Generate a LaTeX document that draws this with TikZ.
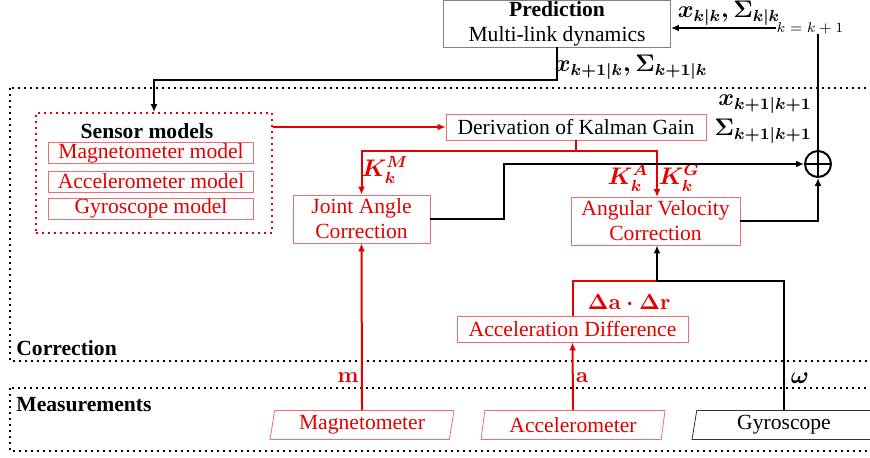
\documentclass[tikz,border=0pt]{standalone}
\usepackage{amsmath, amssymb}
\usepackage{fontspec}
\setmainfont{Liberation Serif}
\newfontfamily\tnr{Liberation Serif}
\usepackage{tikz}
\usetikzlibrary{shapes, shapes.geometric, arrows, calc, positioning}
\usetikzlibrary{arrows.meta}

\definecolor{sigred}{RGB}{228,0,0}
\definecolor{boxred}{RGB}{236,110,110}
\definecolor{boxgray}{RGB}{130,130,130}

\begin{document}
\begin{tikzpicture}[
      x=0.5pt, y=-0.5pt,
      every node/.style={font=\tnr\fontsize{10.8}{12.5}\selectfont, inner sep=0pt},
      block/.style={rectangle, draw=boxred, text=sigred, align=center},
      sensor/.style={trapezium, trapezium left angle=76, trapezium right angle=104,
                     trapezium stretches body, draw=boxred, text=sigred,
                     minimum width=92pt, minimum height=14.5pt},
      region/.style={draw, dotted, line width=1pt},
      sig/.style={line width=1pt, -{Latex[length=4pt, width=3.5pt]}},
      redsig/.style={sig, draw=sigred},
      adder/.style={circle, draw, line width=1pt, minimum size=13pt,
                    path picture={\draw[line width=1pt]
                      (path picture bounding box.north) -- (path picture bounding box.south)
                      (path picture bounding box.west) -- (path picture bounding box.east);}},
      lab/.style={font=\tnr\fontsize{10.8}{12.5}\selectfont\bfseries\boldmath},
      mlab/.style={font=\fontsize{11.5}{13}\selectfont\boldmath}
    ]
    \useasboundingbox (0,0) rectangle (870,457);

    % Frames for the correction and measurement stages
    \draw[region] (10,88) rectangle (885,361);
    \draw[region] (10,388) rectangle (885,451);
    \node[lab, anchor=west] (corrlab) at (16,348) {Correction};
    \node[lab, anchor=west] (measlab) at (16,405) {Measurements};

    % Prediction step
    \node[rectangle, draw=boxgray, align=center, minimum width=113.5pt, minimum height=23.5pt]
      (pred) at (557,23.5) {\textbf{Prediction}\\Multi-link dynamics};
    \node[mlab] (xkk) at (729,13.5) {$x_{k|k},\Sigma_{k|k}$};
    \node[font=\fontsize{7.5}{9}\selectfont] (kinc) at (810,28) {$k=k+1$};
    \node[mlab] (xpred) at (631,67) {$x_{k+1|k},\Sigma_{k+1|k}$};

    % Sensor models
    \node[rectangle, draw=sigred, dotted, line width=1pt, minimum width=118pt, minimum height=60pt]
      (sens) at (154,173) {};
    \node[lab] (senslab) at (147,131) {Sensor models};
    \node[block, minimum width=102.5pt, minimum height=10.5pt] (magmod) at (151,153) {Magnetometer model};
    \node[block, minimum width=102.5pt, minimum height=10.5pt] (accmod) at (151,181.5) {Accelerometer model};
    \node[block, minimum width=102.5pt, minimum height=10.5pt] (gyrmod) at (151,208.5) {Gyroscope model};

    % Correction blocks
    \node[block, text=black, minimum width=130pt, minimum height=13pt] (kal) at (576,127) {Derivation of Kalman Gain};
    \node[block, minimum width=68.5pt, minimum height=24pt] (ja) at (361.5,219) {Joint Angle\\Correction};
    \node[block, minimum width=84.5pt, minimum height=24pt] (av) at (655.5,221) {Angular Velocity\\Correction};
    \node[block, minimum width=115.5pt, minimum height=13pt] (ad) at (572.5,329) {Acceleration Difference};
    \node[adder] (sum) at (818,164) {};
    \node[mlab, anchor=east] (xupd) at (812,104) {$x_{k+1|k+1}$};
    \node[mlab, anchor=east] (supd) at (812,131) {$\Sigma_{k+1|k+1}$};

    % Gain labels
    \node[mlab, text=sigred] (gm) at (385,170) {$K_k^M$};
    \node[mlab, text=sigred] (ga) at (628,178) {$K_k^A$};
    \node[mlab, text=sigred] (gg) at (679,178) {$K_k^G$};
    \node[lab, text=sigred] (dadr) at (629,302) {$\mathbf{\Delta a\cdot\Delta r}$};

    % Measurements
    \node[sensor] (mag) at (362,425) {Magnetometer};
    \node[sensor] (acc) at (573,425) {Accelerometer};
    \node[sensor, draw=black!80, text=black] (gyr) at (784,425) {Gyroscope};
    \node[lab, text=sigred] (mtxt) at (348,378) {$\mathbf{m}$};
    \node[lab, text=sigred] (atxt) at (582,378) {$\mathbf{a}$};
    \node[mlab] (wtxt) at (800,378) {$\omega$};

    % Prediction loop
    \draw[sig] (kinc.west) -- (kinc.west -| pred.east);
    \draw[sig] (pred.south) -- ++(0,33) -| (sens.north);
    \draw[redsig] (kal.west -| sens.east) -- (kal.west);

    % Kalman gains
    \coordinate (ksplit) at (576,151);
    \draw[line width=1pt, sigred] (kal.south) -- (ksplit);
    \draw[redsig] (ksplit) -| (ja.north);
    \draw[redsig] (ksplit) -| (657,197);

    % Updates to the sum
    \draw[sig] (ja.east) -- ++(74,0) |- (sum.west);
    \draw[sig] (av.east) -| (sum.south);
    \draw[line width=1pt] (sum.north) -- (sum.north |- kinc.south);

    % Measurement paths
    \coordinate (avin) at (657,281);
    \draw[line width=1pt, sigred] (ad.north) |- (avin);
    \draw[line width=1pt] (gyr.north) |- (avin);
    \draw[sig] (avin) -- (avin |- av.south);
    \draw[redsig] (mag.north) -- (ja.south);
    \draw[redsig] (acc.north) -- (ad.south);

  \end{tikzpicture}
\end{document}
